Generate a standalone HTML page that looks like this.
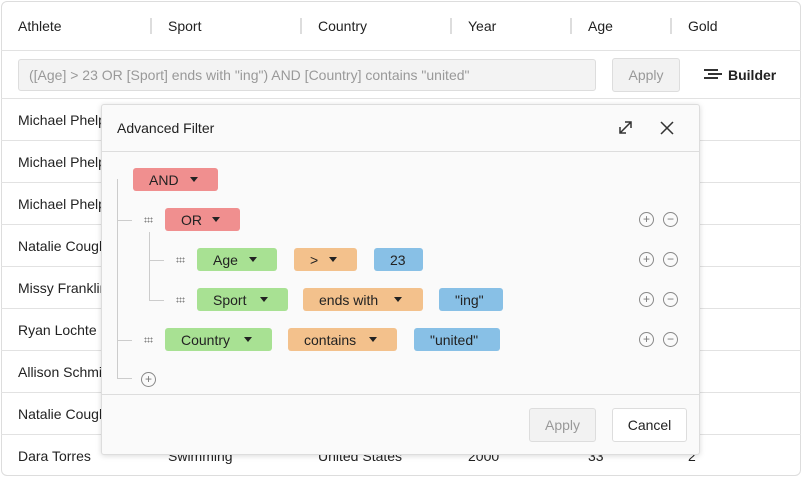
<!DOCTYPE html>
<html><head><style>
*{box-sizing:border-box;margin:0;padding:0}
body{width:802px;height:477px;background:#fff;font-family:"Liberation Sans",sans-serif;font-size:14px;color:#222;position:relative;overflow:hidden}
.a{position:absolute}
.grid{left:1px;top:1px;width:800px;height:475px;border:1px solid #ddd;border-radius:6px;background:#fff}
.hl{height:1px;background:#e2e2e2;left:1px;width:800px}
.sep{width:2px;height:16px;background:#ddd;top:18px}
.t{white-space:nowrap;line-height:16px}
.pill{height:23px;border-radius:3px;line-height:24px;font-size:14px;color:#222;padding-left:16px}
.pill i{position:absolute;top:9px;width:0;height:0;border-left:4.5px solid transparent;border-right:4.5px solid transparent;border-top:5px solid #222}
.r{background:#f08f8f}.g{background:#a8e193}.o{background:#f3c18c}.b{background:#88c0e6}
.ln{background:#ccc}
.c{width:15px;height:15px;border:1.3px solid #888;border-radius:50%;font-size:12px;line-height:12px;text-align:center;color:#777}
.dh{width:9px;height:6px;background-image:radial-gradient(circle,#888 0.8px,transparent 1px);background-size:3px 3px}
</style></head><body>
<div class="a grid"></div>
<div class="a t" style="left:18px;top:18px">Athlete</div>
<div class="a t" style="left:168px;top:18px">Sport</div>
<div class="a t" style="left:318px;top:18px">Country</div>
<div class="a t" style="left:468px;top:18px">Year</div>
<div class="a t" style="left:588px;top:18px">Age</div>
<div class="a t" style="left:688px;top:18px">Gold</div>
<div class="a sep" style="left:150px"></div><div class="a sep" style="left:300px"></div><div class="a sep" style="left:450px"></div><div class="a sep" style="left:570px"></div><div class="a sep" style="left:670px"></div>
<div class="a hl" style="top:50px"></div>
<div class="a" style="left:18px;top:59px;width:578px;height:32px;background:#f3f3f3;border:1px solid #ddd;border-radius:3px;color:#999;padding-left:10px;line-height:30px;font-size:14px">([Age] &gt; 23 OR [Sport] ends with "ing") AND [Country] contains "united"</div>
<div class="a" style="left:612px;top:58px;width:68px;height:34px;background:#f2f2f2;border:1px solid #ddd;border-radius:3px;color:#999;text-align:center;line-height:32px">Apply</div>
<div class="a" style="left:704px;top:69px;width:14px;height:2px;background:#333;box-shadow:4px 4px 0 #333,0 8px 0 #333"></div>
<div class="a t" style="left:728px;top:67px;font-weight:bold">Builder</div>
<div class="a hl" style="top:98px"></div>
<div class="a hl" style="top:140px"></div><div class="a hl" style="top:182px"></div><div class="a hl" style="top:224px"></div><div class="a hl" style="top:266px"></div><div class="a hl" style="top:308px"></div><div class="a hl" style="top:350px"></div><div class="a hl" style="top:392px"></div><div class="a hl" style="top:434px"></div>
<div class="a t" style="left:18px;top:112px">Michael Phelps</div>
<div class="a t" style="left:18px;top:154px">Michael Phelps</div>
<div class="a t" style="left:18px;top:196px">Michael Phelps</div>
<div class="a t" style="left:18px;top:238px">Natalie Coughlin</div>
<div class="a t" style="left:18px;top:280px">Missy Franklin</div>
<div class="a t" style="left:18px;top:322px">Ryan Lochte</div>
<div class="a t" style="left:18px;top:364px">Allison Schmitt</div>
<div class="a t" style="left:18px;top:406px">Natalie Coughlin</div>
<div class="a t" style="left:18px;top:448px">Dara Torres</div>
<div class="a t" style="left:168px;top:448px">Swimming</div>
<div class="a t" style="left:318px;top:448px">United States</div>
<div class="a t" style="left:468px;top:448px">2000</div>
<div class="a t" style="left:588px;top:448px">33</div>
<div class="a t" style="left:688px;top:448px">2</div>

<div class="a" style="left:101px;top:104px;width:599px;height:351px;background:#fafafa;border:1px solid #ddd;border-radius:3px;box-shadow:0 1px 6px rgba(0,0,0,.15)"></div>
<div class="a t" style="left:117px;top:120px">Advanced Filter</div>
<svg class="a" style="left:618px;top:119px" width="60" height="18"><path d="M2 15l11-11M7 4h6v6M2 9v6h6" stroke="#333" stroke-width="1.5" fill="none" transform="translate(0,-1)"/><path d="M43 3l12 12M55 3l-12 12" stroke="#333" stroke-width="1.5"/></svg>
<div class="a" style="left:102px;top:151px;width:597px;height:1px;background:#ddd"></div>

<div class="a ln" style="left:117px;top:179px;width:1px;height:200px"></div>
<div class="a ln" style="left:117px;top:220px;width:15px;height:1px"></div>
<div class="a ln" style="left:117px;top:340px;width:15px;height:1px"></div>
<div class="a ln" style="left:117px;top:378px;width:15px;height:1px"></div>
<div class="a ln" style="left:149px;top:232px;width:1px;height:68px"></div>
<div class="a ln" style="left:149px;top:260px;width:15px;height:1px"></div>
<div class="a ln" style="left:149px;top:300px;width:15px;height:1px"></div>

<div class="a pill r" style="left:133px;top:168px;width:85px">AND<i style="left:57px"></i></div>
<div class="a dh" style="left:144px;top:217px"></div>
<div class="a pill r" style="left:165px;top:208px;width:75px">OR<i style="left:47px"></i></div>
<div class="a dh" style="left:176px;top:257px"></div>
<div class="a pill g" style="left:197px;top:248px;width:80px">Age<i style="left:52px"></i></div>
<div class="a pill o" style="left:294px;top:248px;width:63px">&gt;<i style="left:35px"></i></div>
<div class="a pill b" style="left:374px;top:248px;width:49px">23</div>
<div class="a dh" style="left:176px;top:297px"></div>
<div class="a pill g" style="left:197px;top:288px;width:91px">Sport<i style="left:63px"></i></div>
<div class="a pill o" style="left:303px;top:288px;width:120px">ends with<i style="left:91px"></i></div>
<div class="a pill b" style="left:439px;top:288px;width:64px">"ing"</div>
<div class="a dh" style="left:144px;top:337px"></div>
<div class="a pill g" style="left:165px;top:328px;width:107px">Country<i style="left:79px"></i></div>
<div class="a pill o" style="left:288px;top:328px;width:109px">contains<i style="left:81px"></i></div>
<div class="a pill b" style="left:414px;top:328px;width:86px">"united"</div>

<div class="a c" style="left:639px;top:212px">+</div><div class="a c" style="left:663px;top:212px">−</div>
<div class="a c" style="left:639px;top:252px">+</div><div class="a c" style="left:663px;top:252px">−</div>
<div class="a c" style="left:639px;top:292px">+</div><div class="a c" style="left:663px;top:292px">−</div>
<div class="a c" style="left:639px;top:332px">+</div><div class="a c" style="left:663px;top:332px">−</div>
<div class="a c" style="left:141px;top:372px">+</div>

<div class="a" style="left:102px;top:394px;width:597px;height:1px;background:#ddd"></div>
<div class="a" style="left:529px;top:408px;width:67px;height:34px;background:#f2f2f2;border:1px solid #ddd;border-radius:3px;color:#999;text-align:center;line-height:32px">Apply</div>
<div class="a" style="left:612px;top:408px;width:75px;height:34px;background:#fff;border:1px solid #ddd;border-radius:3px;color:#222;text-align:center;line-height:32px">Cancel</div>
</body></html>
